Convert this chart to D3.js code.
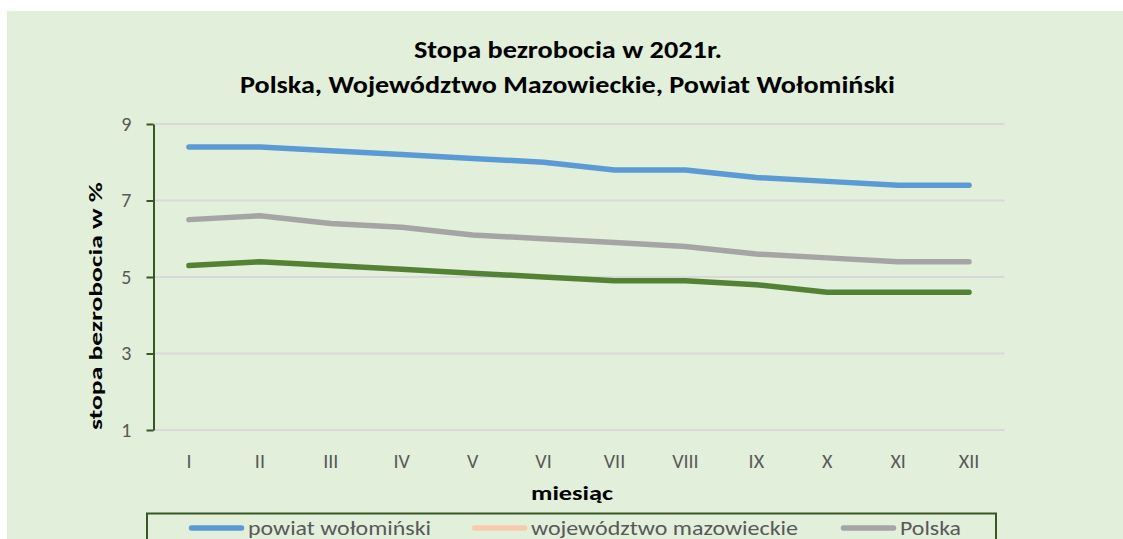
<!DOCTYPE html>
<html>
<head>
<meta charset="utf-8">
<script src="https://cdn.jsdelivr.net/npm/d3@7"></script>
<style>
  body { margin: 0; background: #fff; }
  svg text { font-family: Carlito, Lato, "Open Sans", sans-serif; }
</style>
</head>
<body>
<script>
// data
var months = ["I", "II", "III", "IV", "V", "VI", "VII", "VIII", "IX", "X", "XI", "XII"];
var powiat = [8.4, 8.4, 8.3, 8.2, 8.1, 8.0, 7.8, 7.8, 7.6, 7.5, 7.4, 7.4];
var wojewodztwo = [5.3, 5.4, 5.3, 5.2, 5.1, 5.0, 4.9, 4.9, 4.8, 4.6, 4.6, 4.6];
var polska = [6.5, 6.6, 6.4, 6.3, 6.1, 6.0, 5.9, 5.8, 5.6, 5.5, 5.4, 5.4];
var yTicks = [1, 3, 5, 7, 9];
var seriesNames = ["powiat wołomiński", "województwo mazowieckie", "Polska"];

var W = 1123, H = 539;
var margin = { top: 124, right: 118.5, bottom: 109, left: 153.5 },
  width = W - margin.left - margin.right,
  height = H - margin.top - margin.bottom;

var svg = d3.select("body").append("svg")
  .attr("width", W)
  .attr("height", H);

// chart area background
svg.append("rect")
  .attr("x", 7).attr("y", 11)
  .attr("width", W - 7).attr("height", H - 11)
  .attr("fill", "#E2EFDA");

// title (two lines)
svg.append("text")
  .attr("x", 414).attr("y", 58)
  .attr("font-size", 24).attr("font-weight", "bold")
  .attr("textLength", 308).attr("lengthAdjust", "spacingAndGlyphs")
  .text("Stopa bezrobocia w 2021r.");
svg.append("text")
  .attr("x", 240).attr("y", 93)
  .attr("font-size", 24).attr("font-weight", "bold")
  .attr("textLength", 655).attr("lengthAdjust", "spacingAndGlyphs")
  .text("Polska, Województwo Mazowieckie, Powiat Wołomiński");

var g = svg.append("g")
  .attr("transform", "translate(" + margin.left + "," + margin.top + ")");

var x = d3.scaleBand().domain(months).range([0, width]);
var y = d3.scaleLinear().domain([1, 9]).range([height, 0]);

// gridlines
g.selectAll(".grid")
  .data(yTicks)
  .enter().append("line")
  .attr("x1", 0).attr("x2", width)
  .attr("y1", function (d) { return y(d); })
  .attr("y2", function (d) { return y(d); })
  .attr("stroke", "#D9D9D9")
  .attr("stroke-width", 2);

// y axis
var yAxis = g.append("g")
  .call(d3.axisLeft(y).tickValues(yTicks).tickSize(7).tickPadding(15).tickSizeOuter(0));
yAxis.select(".domain").attr("stroke", "#385723").attr("stroke-width", 2);
yAxis.selectAll(".tick line").attr("stroke", "#385723").attr("stroke-width", 2);
yAxis.selectAll(".tick text")
  .attr("font-size", 20).attr("fill", "#595959");

// x axis labels (no line)
var xAxis = g.append("g")
  .attr("transform", "translate(0," + height + ")")
  .call(d3.axisBottom(x).tickSize(0).tickPadding(24));
xAxis.select(".domain").remove();
xAxis.selectAll(".tick text")
  .attr("font-size", 20).attr("fill", "#595959");

// axis titles
svg.append("text")
  .attr("x", 531).attr("y", 500)
  .attr("font-size", 20).attr("font-weight", "bold")
  .attr("textLength", 82).attr("lengthAdjust", "spacingAndGlyphs")
  .text("miesiąc");
svg.append("text")
  .attr("transform", "translate(102,430) rotate(-90)")
  .attr("font-size", 19).attr("font-weight", "bold")
  .attr("textLength", 248).attr("lengthAdjust", "spacingAndGlyphs")
  .text("stopa bezrobocia w %");

// lines
var line = d3.line()
  .x(function (d, i) { return x(months[i]) + x.bandwidth() / 2; })
  .y(function (d) { return y(d); });

var series = [
  { values: wojewodztwo, color: "#548235" },
  { values: polska, color: "#A5A5A5" },
  { values: powiat, color: "#5B9BD5" }
];
g.selectAll(".series")
  .data(series)
  .enter().append("path")
  .attr("d", function (d) { return line(d.values); })
  .attr("fill", "none")
  .attr("stroke", function (d) { return d.color; })
  .attr("stroke-width", 5.5)
  .attr("stroke-linecap", "round")
  .attr("stroke-linejoin", "round");

// legend box (cut off at the bottom edge)
svg.append("rect")
  .attr("x", 147).attr("y", 513.5)
  .attr("width", 849).attr("height", 40)
  .attr("fill", "none")
  .attr("stroke", "#385723")
  .attr("stroke-width", 2);

var legendColors = ["#5B9BD5", "#F8CBAD", "#A5A5A5"];
var swatchX = [189, 472, 841];
var labelX = [248, 531, 900];
var labelW = [183, 267, 61];
var lg = svg.selectAll(".legend")
  .data(seriesNames)
  .enter().append("g");
lg.append("line")
  .attr("x1", function (d, i) { return swatchX[i] + 2.5; })
  .attr("x2", function (d, i) { return swatchX[i] + 52.5; })
  .attr("y1", 528).attr("y2", 528)
  .attr("stroke", function (d, i) { return legendColors[i]; })
  .attr("stroke-width", 5.5)
  .attr("stroke-linecap", "round");
lg.append("text")
  .attr("x", function (d, i) { return labelX[i]; })
  .attr("y", 535)
  .attr("font-size", 20).attr("fill", "#595959")
  .attr("textLength", function (d, i) { return labelW[i]; })
  .attr("lengthAdjust", "spacingAndGlyphs")
  .text(function (d) { return d; });
</script>
</body>
</html>
